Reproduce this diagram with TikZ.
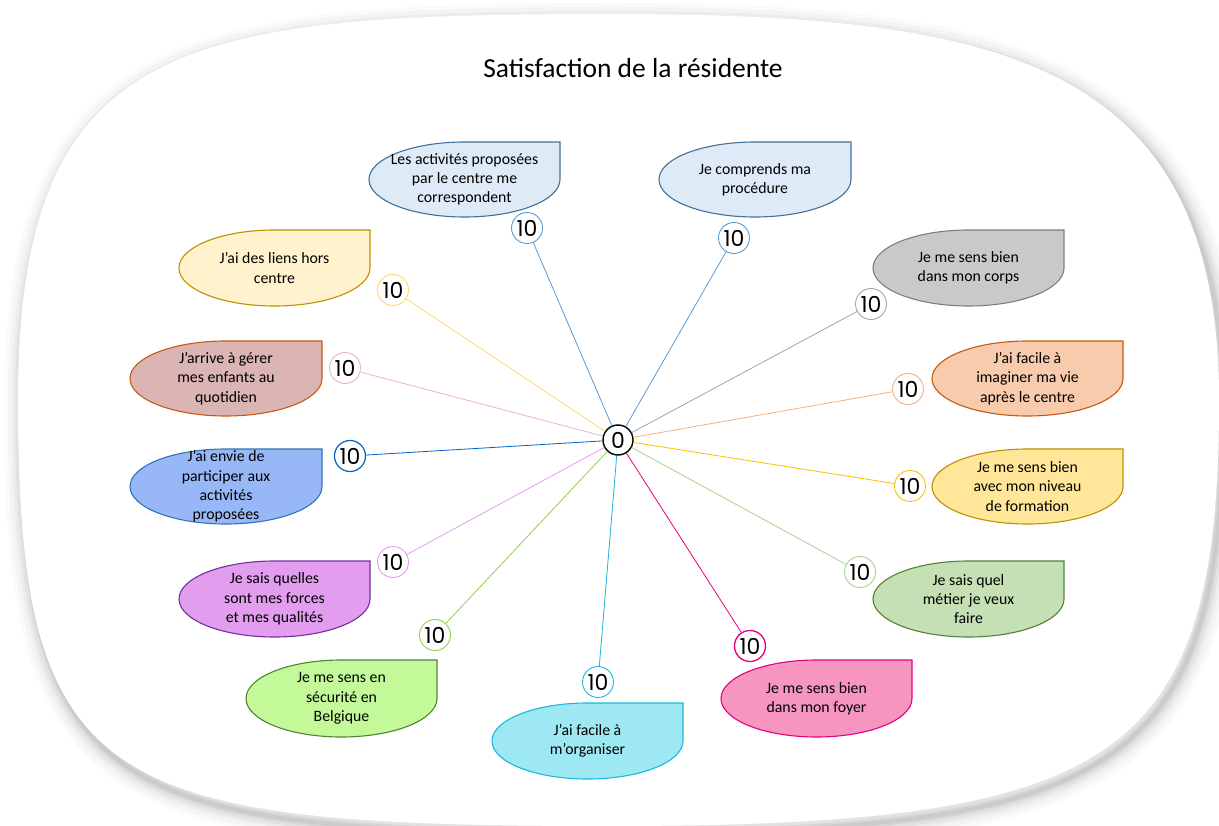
\documentclass[tikz,border=0pt]{standalone}
\usepackage{fontspec}
\setmainfont{Carlito}
\newfontfamily\numf{Poppins}
\definecolor{fA}{HTML}{DEEBF7}\definecolor{dA}{HTML}{41719C}\definecolor{lA}{HTML}{5B9BD5}
\definecolor{fC}{HTML}{C9C9C9}\definecolor{dC}{HTML}{7F7F7F}\definecolor{lC}{HTML}{A5A5A5}
\definecolor{fD}{HTML}{F8CBAD}\definecolor{dD}{HTML}{C55A11}\definecolor{lD}{HTML}{F4B183}
\definecolor{fE}{HTML}{FFE699}\definecolor{dE}{HTML}{BF9000}\definecolor{lE}{HTML}{FFC000}
\definecolor{fF}{HTML}{C5E0B4}\definecolor{dF}{HTML}{548235}\definecolor{lF}{HTML}{A9D18E}
\definecolor{fG}{HTML}{F795C1}\definecolor{dG}{HTML}{E6007E}\definecolor{lG}{HTML}{E6007E}
\definecolor{fH}{HTML}{9DE8F2}\definecolor{dH}{HTML}{19B8DD}\definecolor{lH}{HTML}{19B8DD}
\definecolor{fI}{HTML}{C4F99A}\definecolor{dI}{HTML}{548235}\definecolor{lI}{HTML}{92D050}
\definecolor{fJ}{HTML}{E29DEF}\definecolor{dJ}{HTML}{7030A0}\definecolor{lJ}{HTML}{E29DEF}
\definecolor{fK}{HTML}{97B7F7}\definecolor{dK}{HTML}{2E75B6}\definecolor{lK}{HTML}{0563C1}
\definecolor{fL}{HTML}{DBB4B4}\definecolor{dL}{HTML}{C55A11}\definecolor{lL}{HTML}{E6B9B8}
\definecolor{fM}{HTML}{FFF2CC}\definecolor{dM}{HTML}{BF9000}\definecolor{lM}{HTML}{FFD966}
\newcommand\blobpath{(610,14) .. controls (1000,14) and (1219,60) .. (1219,400) .. controls (1219,760) and (1120,826) .. (610,826) .. controls (100,826) and (18,790) .. (18,400) .. controls (18,40) and (180,14) .. (610,14) -- cycle}
\newcommand\tdrop[8]{%
 \pgfmathsetmacro\xa{#2}\pgfmathsetmacro\ya{#3}\pgfmathsetmacro\xb{#4}\pgfmathsetmacro\yb{#5}%
 \pgfmathsetmacro\xm{(\xa+\xb)/2}\pgfmathsetmacro\ym{(\ya+\yb)/2}%
 \pgfmathsetmacro\ka{0.5523*(\xb-\xa)/2}\pgfmathsetmacro\kb{0.5523*(\yb-\ya)/2}%
 \draw[fill=#6, draw=#7, line width=1.1] (\xb,\ya) -- (\xb,\ym) .. controls (\xb,\ym+\kb) and (\xm+\ka,\yb) .. (\xm,\yb) .. controls (\xm-\ka,\yb) and (\xa,\ym+\kb) .. (\xa,\ym) .. controls (\xa,\ym-\kb) and (\xm-\ka,\ya) .. (\xm,\ya) -- cycle;
 \node[lbl] (#1) at (\xm,\ym) {#8};
}
\begin{document}
\begin{tikzpicture}[x=1pt,y=-1pt,
  lbl/.style={align=center, font=\fontsize{15.8}{19.3}\selectfont, text=black, inner sep=0},
  num/.style={circle, draw, fill=white, minimum size=31, inner sep=0, font=\numf\fontsize{22}{22}\selectfont, line width=0.9},
  conn/.style={line width=0.8}]
\useasboundingbox (0,0) rectangle (1219,826);
\fill[white] (0,0) rectangle (1219,826);
% shadow
\begin{scope}[shift={(4,7)}]
\foreach \w/\o in {36/0.02, 28/0.025, 20/0.03, 14/0.04, 8/0.05, 4/0.05}
  \draw[line width=\w, black, opacity=\o] \blobpath;
\end{scope}
\fill[white] \blobpath;
\node[font=\fontsize{27.5}{30}\selectfont] (title) at (633,68) {Satisfaction de la résidente};
% bubbles
\tdrop{tA}{369}{142}{560}{217}{fA}{dA}{Les activités proposées\\par le centre me\\correspondent}
\tdrop{tB}{659}{142}{851}{217}{fA}{dA}{Je comprends ma\\procédure}
\tdrop{tC}{873}{230}{1064}{306}{fC}{dC}{Je me sens bien\\dans mon corps}
\tdrop{tD}{932}{341}{1123}{416}{fD}{dD}{J’ai facile à\\imaginer ma vie\\après le centre}
\tdrop{tE}{932}{449}{1123}{524}{fE}{dE}{Je me sens bien\\avec mon niveau\\de formation}
\tdrop{tF}{873}{561}{1064}{637}{fF}{dF}{Je sais quel\\métier je veux\\faire}
\tdrop{tG}{721}{660}{912}{737}{fG}{dG}{Je me sens bien\\dans mon foyer}
\tdrop{tH}{492}{703}{683}{779}{fH}{dH}{J’ai facile à\\m’organiser}
\tdrop{tI}{246}{660}{437}{737}{fI}{dI}{Je me sens en\\sécurité en\\Belgique}
\tdrop{tJ}{179}{561}{370}{637}{fJ}{dJ}{Je sais quelles\\sont mes forces\\et mes qualités}
\tdrop{tK}{130}{449}{322}{524}{fK}{dK}{J’ai envie de\\participer aux\\activités\\proposées}
\tdrop{tL}{130}{341}{322}{416}{fL}{dL}{J’arrive à gérer\\mes enfants au\\quotidien}
\tdrop{tM}{179}{230}{370}{306}{fM}{dM}{J’ai des liens hors\\centre}
% centre
\node[num, draw=black, line width=1.4, minimum size=30] (c) at (618,440) {0};
% score circles
\node[num, draw=lA] (nA) at (527,228) {10};
\node[num, draw=lA] (nB) at (734,238) {10};
\node[num, draw=lC] (nC) at (871,304) {10};
\node[num, draw=lD] (nD) at (908,389) {10};
\node[num, draw=lE] (nE) at (910,486) {10};
\node[num, draw=lF] (nF) at (860,572) {10};
\node[num, draw=lG, line width=1.3] (nG) at (750,646) {10};
\node[num, draw=lH] (nH) at (598,682) {10};
\node[num, draw=lI] (nI) at (435,635) {10};
\node[num, draw=lJ] (nJ) at (393,562) {10};
\node[num, draw=lK, line width=1.2] (nK) at (350,456) {10};
\node[num, draw=lL] (nL) at (345,368) {10};
\node[num, draw=lM] (nM) at (393,290) {10};
% connectors
\draw[conn, lA] (c) -- (nA);
\draw[conn, lA] (c) -- (nB);
\draw[conn, lC] (c) -- (nC);
\draw[conn, lD] (c) -- (nD);
\draw[conn, lE] (c) -- (nE);
\draw[conn, lF] (c) -- (nF);
\draw[conn, lG] (c) -- (nG);
\draw[conn, lH] (c) -- (nH);
\draw[conn, lI] (c) -- (nI);
\draw[conn, lJ] (c) -- (nJ);
\draw[conn, lK] (c) -- (nK);
\draw[conn, lL] (c) -- (nL);
\draw[conn, lM] (c) -- (nM);
\end{tikzpicture}
\end{document}
